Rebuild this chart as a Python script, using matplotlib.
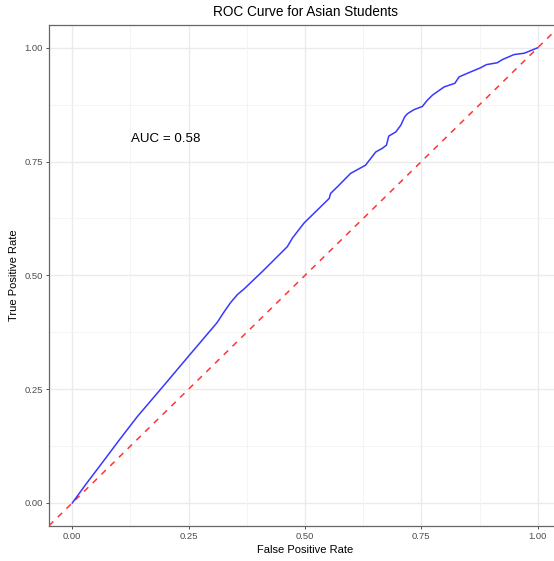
import matplotlib
matplotlib.use('Agg')
import matplotlib.pyplot as plt

plt.rcParams['font.family'] = ['Liberation Sans', 'DejaVu Sans']

# ROC curve points
fpr = [0.0, 0.03, 0.07, 0.10, 0.14, 0.20, 0.247, 0.311, 0.325, 0.340, 0.355, 0.369,
       0.41, 0.462, 0.473, 0.498, 0.534, 0.552, 0.555, 0.570, 0.598, 0.630,
       0.652, 0.666, 0.675, 0.680, 0.695, 0.706, 0.714, 0.720, 0.734, 0.752,
       0.763, 0.774, 0.799, 0.822, 0.831, 0.849, 0.877, 0.890, 0.913, 0.924,
       0.949, 0.971, 1.0]
tpr = [0.0, 0.042, 0.096, 0.137, 0.19, 0.262, 0.319, 0.396, 0.418, 0.440, 0.458, 0.470,
       0.51, 0.563, 0.582, 0.615, 0.651, 0.669, 0.680, 0.695, 0.724, 0.742,
       0.771, 0.779, 0.786, 0.806, 0.815, 0.830, 0.848, 0.855, 0.864, 0.871,
       0.885, 0.896, 0.914, 0.922, 0.936, 0.944, 0.956, 0.963, 0.967, 0.974,
       0.985, 0.988, 1.0]
auc_text = 'AUC = 0.58'
ticks = [0.0, 0.25, 0.5, 0.75, 1.0]
tick_labels = ['0.00', '0.25', '0.50', '0.75', '1.00']
minor = [0.125, 0.375, 0.625, 0.875]

fig = plt.figure(figsize=(5.54, 5.61), dpi=100)
ax = fig.add_axes([49/554, 1 - 525.7/561, 512/554, 500.7/561])

ax.set_xlim(-0.05, 1.05)
ax.set_ylim(-0.05, 1.05)

for v in ticks:
    ax.axvline(v, color='#EBEBEB', lw=1.0, zorder=0)
    ax.axhline(v, color='#EBEBEB', lw=1.0, zorder=0)
for v in minor:
    ax.axvline(v, color='#F3F3F3', lw=0.6, zorder=0)
    ax.axhline(v, color='#F3F3F3', lw=0.6, zorder=0)

ax.plot(fpr, tpr, color='#3838FF', lw=1.1, zorder=3)
ax.plot([-0.05, 1.05], [-0.05, 1.05], color='#FF3535', lw=1.1,
        linestyle=(0, (4, 4)), zorder=2)

ax.text(0.20, 0.80, auc_text, fontsize=9.6, ha='center', va='center', color='black')

ax.set_xticks(ticks)
ax.set_xticklabels(tick_labels)
ax.set_yticks(ticks)
ax.set_yticklabels(tick_labels)
ax.tick_params(axis='both', labelsize=6.8, labelcolor='#4D4D4D', color='#333333',
               length=2.5, width=0.6, pad=2)

for s in ['left', 'top', 'bottom']:
    ax.spines[s].set_color('#666666')
    ax.spines[s].set_linewidth(0.9)
ax.spines['right'].set_visible(False)

ax.set_xlabel('False Positive Rate', fontsize=8, labelpad=3)
ax.set_ylabel('True Positive Rate', fontsize=8, labelpad=4)

fig.text(305/554, 1 - 12/561, 'ROC Curve for Asian Students', fontsize=9.8,
         ha='center', va='center')

fig.savefig('out.png', dpi=100)
